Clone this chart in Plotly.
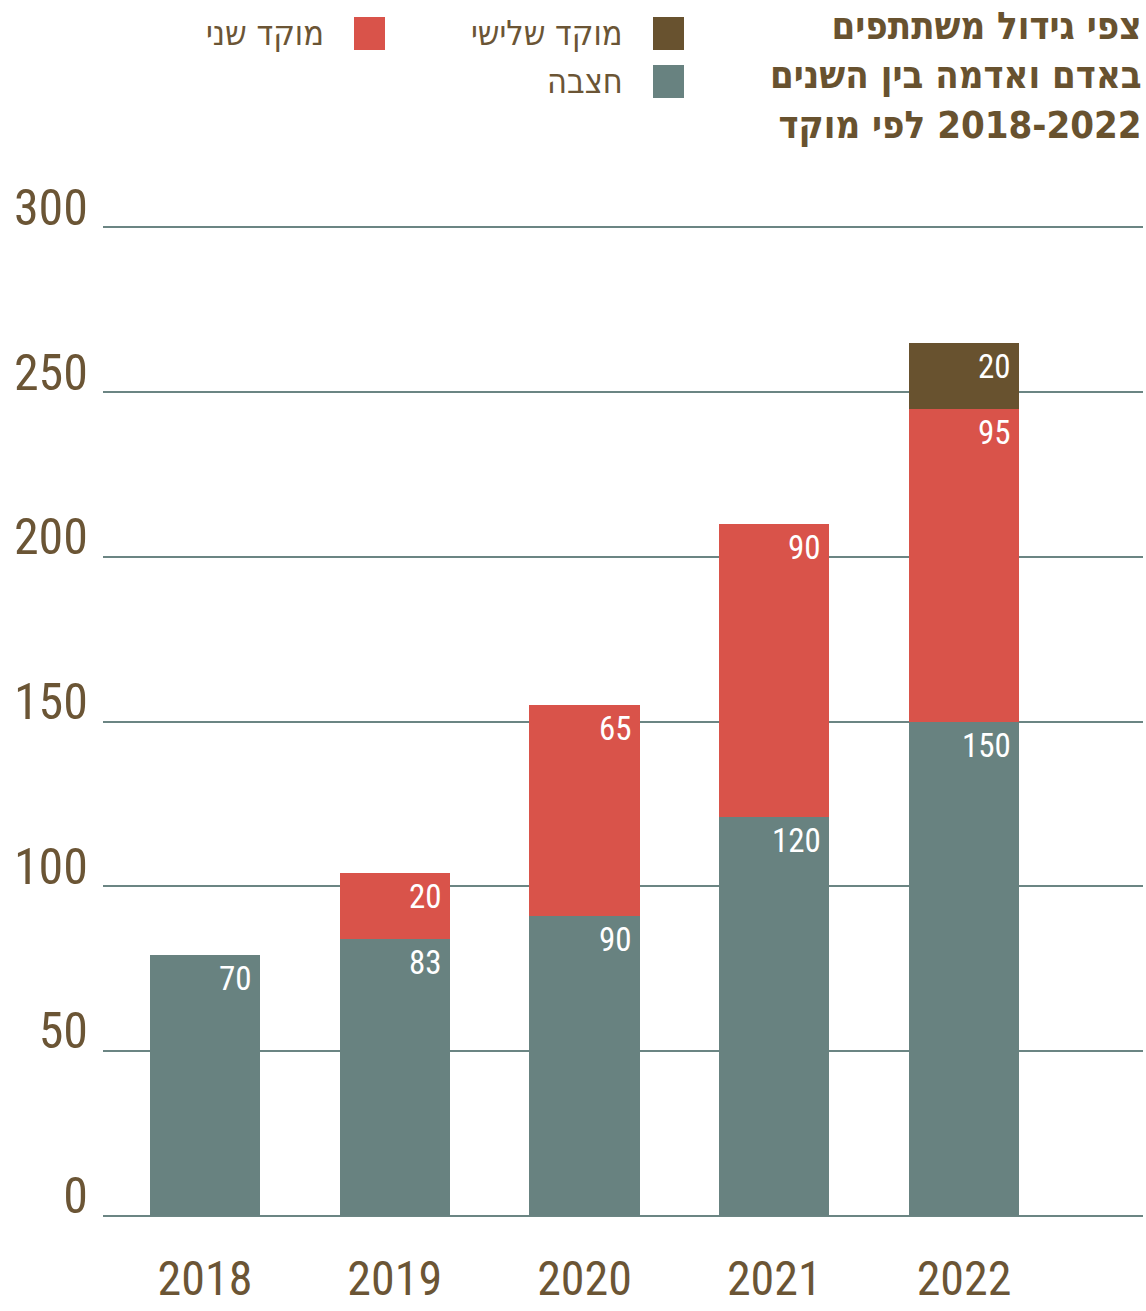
import plotly.graph_objects as go

years = ["2018", "2019", "2020", "2021", "2022"]
hatzba = [79, 84, 91, 121, 150]
second_hub = [0, 20, 64, 89, 95]
third_hub = [0, 0, 0, 0, 20]
hatzba_labels = ["70", "83", "90", "120", "150"]
second_labels = ["", "20", "65", "90", "95"]
third_labels = ["", "", "", "", "20"]
y_ticks = [0, 50, 100, 150, 200, 250, 300]

series_names = ["חצבה", "מוקד שני", "מוקד שלישי"]
title_lines = ["צפי גידול משתתפים", "באדם ואדמה בין השנים", "2018-2022 לפי מוקד"]

TEAL = "#688280"
RED = "#d9534a"
BROWN = "#68522f"
TXT = "#6b5535"
GRID = "#6b8583"
NUM_FONT = "Roboto Condensed, DejaVu Sans Condensed, sans-serif"
HEB_FONT = "DejaVu Sans Condensed, Noto Sans, sans-serif"

W, H = 1146, 1311
L, R, T, B = 103, 3, 224, 92
PW, PH = W - L - R, H - T - B


def px(x):
    """page x pixel -> paper coordinate"""
    return (x - L) / PW


def py(y):
    """page y pixel -> paper coordinate"""
    return (H - B - y) / PH


fig = go.Figure()
for vals, col, name in [(hatzba, TEAL, series_names[0]),
                        (second_hub, RED, series_names[1]),
                        (third_hub, BROWN, series_names[2])]:
    fig.add_trace(go.Bar(x=years, y=vals, name=name, marker_color=col,
                         marker_line_width=0, width=0.58, showlegend=False))

annotations = []
for i, yr in enumerate(years):
    cum = 0
    for vals, labs in [(hatzba, hatzba_labels), (second_hub, second_labels), (third_hub, third_labels)]:
        cum += vals[i]
        if vals[i] > 0 and labs[i]:
            annotations.append(dict(x=i, y=cum, text=labs[i], showarrow=False,
                                    xanchor="right", yanchor="top", xshift=49, yshift=-2,
                                    font=dict(family=NUM_FONT, size=33, color="white")))

title_text = "<br>".join("\u202B" + s + "\u202C" for s in title_lines)
annotations.append(dict(xref="paper", yref="paper", x=px(1144), y=py(2), text=title_text,
                        showarrow=False, xanchor="right", yanchor="top", align="right",
                        font=dict(family=HEB_FONT, size=38, color=BROWN, weight="bold")))

shapes = []
legend_items = [(BROWN, series_names[2], 653, 17), (TEAL, series_names[0], 653, 65), (RED, series_names[1], 354, 17)]
for col, name, x0, y0 in legend_items:
    shapes.append(dict(type="rect", xref="paper", yref="paper", x0=px(x0), x1=px(x0 + 31),
                       y0=py(y0 + 33), y1=py(y0), fillcolor=col, line_width=0))
    annotations.append(dict(xref="paper", yref="paper", x=px(x0 - 28), y=py(y0 + 16), text=name,
                            showarrow=False, xanchor="right", yanchor="middle",
                            font=dict(family=HEB_FONT, size=34, color=TXT)))

fig.update_layout(
    width=W, height=H, margin=dict(l=L, r=R, t=T, b=B, autoexpand=False),
    paper_bgcolor="white", plot_bgcolor="white",
    barmode="stack", bargap=0.42,
    annotations=annotations, shapes=shapes,
    xaxis=dict(type="category", range=[-0.5375, 4.943], showgrid=False, zeroline=False, showline=False,
               automargin=False, ticks="", tickfont=dict(family=NUM_FONT, size=48, color=TXT),
               ticklabelstandoff=27),
    yaxis=dict(range=[-1, 301], tickvals=y_ticks, showgrid=True, gridcolor=GRID, gridwidth=2,
               zeroline=False, showline=False, ticks="", automargin=False,
               tickfont=dict(family=NUM_FONT, size=50, color=TXT), ticklabelstandoff=14,
               ticklabelshift=-20),
    font=dict(family=NUM_FONT),
)

fig.write_html("out.html", config={"displayModeBar": False},
               post_script="document.body.style.margin='0';document.body.style.overflow='hidden';")
